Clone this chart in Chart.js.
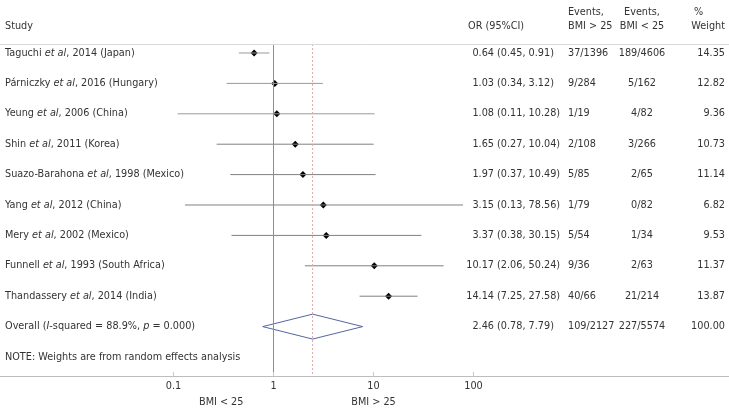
<!DOCTYPE html>
<html>
<head>
<meta charset="utf-8">
<script src="https://cdn.jsdelivr.net/npm/chart.js@4.4.1/dist/chart.umd.min.js"></script>
<style>
  html, body { margin: 0; background: #fff; }
  #wrap { width: 729px; height: 409px; position: relative; }
</style>
</head>
<body>
<div id="wrap"><canvas id="forest"></canvas></div>
<script>
// Forest plot: OR of BMI > 25 vs BMI < 25, random effects.

const authors   = ["Taguchi", "Párniczky", "Yeung", "Shin", "Suazo-Barahona", "Yang", "Mery", "Funnell", "Thandassery"];
const years     = [2014, 2016, 2006, 2011, 1998, 2012, 2002, 1993, 2014];
const countries = ["Japan", "Hungary", "China", "Korea", "Mexico", "China", "Mexico", "South Africa", "India"];
const oddsRatio = [0.64, 1.03, 1.08, 1.65, 1.97, 3.15, 3.37, 10.17, 14.14];
const ciLow     = [0.45, 0.34, 0.11, 0.27, 0.37, 0.13, 0.38, 2.06, 7.25];
const ciHigh    = [0.91, 3.12, 10.28, 10.04, 10.49, 78.56, 30.15, 50.24, 27.58];
const eventsHi  = ["37/1396", "9/284", "1/19", "2/108", "5/85", "1/79", "5/54", "9/36", "40/66"];
const eventsLo  = ["189/4606", "5/162", "4/82", "3/266", "2/65", "0/82", "1/34", "2/63", "21/214"];
const weights   = [14.35, 12.82, 9.36, 10.73, 11.14, 6.82, 9.53, 11.37, 13.87];

const pooledOR = 2.46, pooledLow = 0.78, pooledHigh = 7.79;
const pooledEventsHi = "109/2127", pooledEventsLo = "227/5574", pooledWeight = 100.00;
const iSquared = "88.9%", pValue = "0.000";

const axisTicks = [0.1, 1, 10, 100];

// layout
const FONT = '"DejaVu Sans", Verdana, sans-serif';
const FSIZE = 9.7;
const COL = { study: 5, or: 468, orNum: 494, ev1: 568, ev2: 642, wt: 725 };
const nStudies = authors.length;
const overallRow = nStudies;
const noteRow = nStudies + 1;

function font(it) { return `${it ? "italic " : ""}${FSIZE}px ${FONT}`; }

function rich(ctx, x, y, parts, align = "left") {
  ctx.textAlign = "left";
  let w = 0;
  for (const [t, it] of parts) { ctx.font = font(it); w += ctx.measureText(t).width; }
  let cx = align === "right" ? x - w : align === "center" ? x - w / 2 : x;
  for (const [t, it] of parts) {
    ctx.font = font(it);
    ctx.fillText(t, cx, y);
    cx += ctx.measureText(t).width;
  }
}

function orCells(ctx, y, o, l, h) {
  rich(ctx, COL.orNum, y, [[o.toFixed(2)]], "right");
  rich(ctx, COL.orNum, y, [[` (${l.toFixed(2)}, ${h.toFixed(2)})`]]);
}

const tablePlugin = {
  id: "table",
  afterDraw(chart) {
    const { ctx, chartArea, scales: { x, y } } = chart;
    ctx.save();
    ctx.textBaseline = "middle";
    ctx.fillStyle = "#333";

    // header
    rich(ctx, COL.study, 26, [["Study"]]);
    rich(ctx, COL.or, 26, [["OR (95%CI)"]]);
    rich(ctx, COL.ev1, 12, [["Events,"]]);
    rich(ctx, COL.ev1, 26, [["BMI > 25"]]);
    rich(ctx, COL.ev2, 12, [["Events,"]], "center");
    rich(ctx, COL.ev2, 26, [["BMI < 25"]], "center");
    rich(ctx, COL.wt - 31, 12, [["%"]]);
    rich(ctx, COL.wt, 26, [["Weight"]], "right");

    // study rows
    for (let i = 0; i < nStudies; i++) {
      const py = y.getPixelForValue(i);
      rich(ctx, COL.study, py, [[authors[i] + " "], ["et al", true], [`, ${years[i]} (${countries[i]})`]]);
      orCells(ctx, py, oddsRatio[i], ciLow[i], ciHigh[i]);
      rich(ctx, COL.ev1, py, [[eventsHi[i]]]);
      rich(ctx, COL.ev2, py, [[eventsLo[i]]], "center");
      rich(ctx, COL.wt, py, [[weights[i].toFixed(2)]], "right");
    }

    // overall row
    const oy = y.getPixelForValue(overallRow);
    rich(ctx, COL.study, oy, [["Overall ("], ["I", true], [`-squared = ${iSquared}, `], ["p", true], [` = ${pValue})`]]);
    orCells(ctx, oy, pooledOR, pooledLow, pooledHigh);
    rich(ctx, COL.ev1, oy, [[pooledEventsHi]]);
    rich(ctx, COL.ev2, oy, [[pooledEventsLo]], "center");
    rich(ctx, COL.wt, oy, [[pooledWeight.toFixed(2)]], "right");

    rich(ctx, COL.study, y.getPixelForValue(noteRow), [["NOTE: Weights are from random effects analysis"]]);

    // rule under header
    ctx.strokeStyle = "#dadada";
    ctx.lineWidth = 1;
    ctx.beginPath();
    ctx.moveTo(chartArea.left, chartArea.top + 0.5);
    ctx.lineTo(chartArea.right, chartArea.top + 0.5);
    ctx.stroke();

    // small tick marks above axis
    ctx.strokeStyle = "#c8c8c8";
    for (const t of axisTicks) {
      const px = Math.floor(x.getPixelForValue(t)) + 0.5;
      ctx.beginPath();
      ctx.moveTo(px, chartArea.bottom - 4);
      ctx.lineTo(px, chartArea.bottom);
      ctx.stroke();
    }

    // axis side labels
    rich(ctx, x.getPixelForValue(0.3), 402, [["BMI < 25"]], "center");
    rich(ctx, x.getPixelForValue(10), 402, [["BMI > 25"]], "center");
    ctx.restore();
  },
};

const yTop = -0.296, yBottom = 10.625;

const ciSets = oddsRatio.map((_, i) => ({
  data: [{ x: ciLow[i], y: i }, { x: ciHigh[i], y: i }],
  showLine: true,
  borderColor: i < 3 ? "#9a9a9a" : "#808080",
  borderWidth: 1,
  pointRadius: 0,
}));

const datasets = [
  {
    data: [{ x: 1, y: yTop }, { x: 1, y: yBottom }],
    showLine: true, borderColor: "#8e8e8e", borderWidth: 1, pointRadius: 0,
  },
  {
    data: [{ x: pooledOR, y: yTop }, { x: pooledOR, y: yBottom }],
    showLine: true, borderColor: "#dca8a8", borderWidth: 1, borderDash: [2, 2], pointRadius: 0,
  },
  ...ciSets,
  {
    data: oddsRatio.map((v, i) => ({ x: v, y: i })),
    pointStyle: "rectRot", pointRadius: 3.5,
    backgroundColor: "#000", borderColor: "#000", borderWidth: 0,
  },
  {
    data: [
      { x: pooledLow, y: overallRow },
      { x: pooledOR, y: overallRow - 0.41 },
      { x: pooledHigh, y: overallRow },
      { x: pooledOR, y: overallRow + 0.41 },
      { x: pooledLow, y: overallRow },
    ],
    showLine: true, borderColor: "#55649e", borderWidth: 1, pointRadius: 0, tension: 0,
  },
];

new Chart(document.getElementById("forest"), {
  type: "scatter",
  data: { datasets },
  options: {
    responsive: true,
    maintainAspectRatio: false,
    animation: false,
    events: [],
    layout: { autoPadding: false, padding: { top: 44, left: 0, right: 0, bottom: 0 } },
    plugins: { legend: { display: false }, tooltip: { enabled: false } },
    scales: {
      x: {
        type: "logarithmic",
        bounds: "data",
        min: Math.pow(10, -2.735),
        max: Math.pow(10, 4.555),
        afterBuildTicks: (s) => { s.ticks = axisTicks.map((v) => ({ value: v })); },
        afterFit: (s) => { s.height = 33; },
        grid: { display: false, drawTicks: false },
        border: { display: true, color: "#bdbdbd", width: 1 },
        ticks: {
          padding: 5,
          color: "#333",
          font: { family: FONT, size: FSIZE },
          autoSkip: false,
          maxRotation: 0,
          callback: (v) => String(v),
        },
      },
      y: { type: "linear", display: false, reverse: true, min: yTop, max: yBottom },
    },
  },
  plugins: [tablePlugin],
});
</script>
</body>
</html>
